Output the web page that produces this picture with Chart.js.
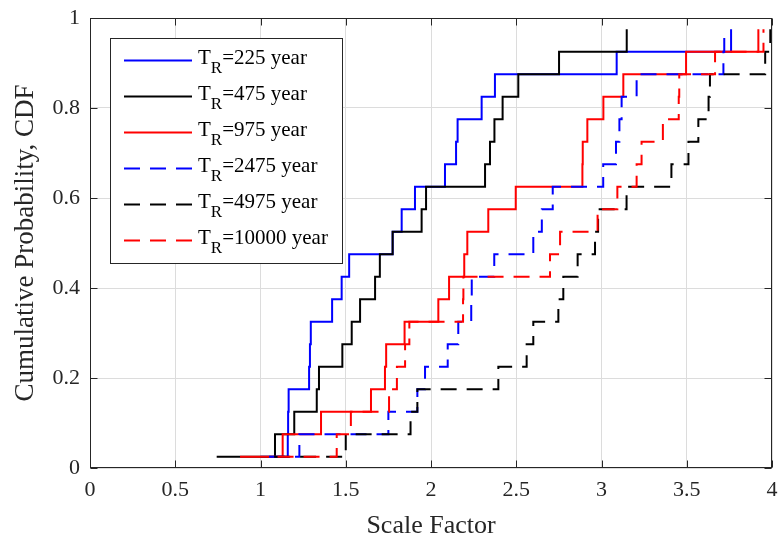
<!DOCTYPE html>
<html><head><meta charset="utf-8">
<script src="https://cdn.jsdelivr.net/npm/chart.js@4.4.1/dist/chart.umd.min.js"></script>
<style>html,body{margin:0;padding:0;background:#fff;}</style>
</head><body>
<canvas id="c" width="783" height="542"></canvas>
<script>
// Cumulative probability levels (plotting positions)
const cdfLevels = [0.025,0.075,0.125,0.175,0.225,0.275,0.325,0.375,0.425,0.475,0.525,0.575,0.625,0.675,0.725,0.775,0.825,0.875,0.925,0.975];
// Sorted scale factors per return period
const sf225   = [1.00,1.16,1.162,1.165,1.285,1.29,1.295,1.42,1.476,1.52,1.775,1.828,1.906,2.082,2.147,2.156,2.297,2.375,3.089,3.76];
const sf475   = [0.743,1.085,1.198,1.33,1.343,1.48,1.535,1.584,1.672,1.70,1.775,1.945,1.971,2.317,2.346,2.372,2.42,2.512,2.751,3.148];
const sf975   = [0.88,1.13,1.355,1.648,1.73,1.737,1.845,2.043,2.106,2.195,2.213,2.336,2.497,2.888,2.89,2.917,3.011,3.128,3.496,3.92];
const sf2475  = [1.05,1.228,1.75,1.92,1.965,2.098,2.16,2.236,2.239,2.371,2.60,2.65,2.714,3.01,3.085,3.105,3.118,3.206,3.715,3.72];
const sf4975  = [1.08,1.50,1.88,1.92,2.395,2.561,2.60,2.747,2.776,2.86,2.962,2.98,3.147,3.41,3.51,3.568,3.628,3.636,3.96,3.99];
const sf10000 = [1.10,1.447,1.53,1.754,1.80,1.848,1.873,2.188,2.19,2.698,2.757,2.977,3.093,3.206,3.235,3.36,3.453,3.456,3.666,3.95];
const returnPeriods = ['225','475','975','2475','4975','10000'];
const xTicks = [0,0.5,1,1.5,2,2.5,3,3.5,4];
const xTickLabels = ['0','0.5','1','1.5','2','2.5','3','3.5','4'];
const yTicks = [0,0.2,0.4,0.6,0.8,1];
const yTickLabels = ['0','0.2','0.4','0.6','0.8','1'];

const FONT = '"Liberation Serif", "Times New Roman", serif';
const AXIS = '#262626';

const seriesX = [sf225, sf475, sf975, sf2475, sf4975, sf10000];
const colors = ['#0000ff','#000000','#ff0000','#0000ff','#000000','#ff0000'];
const dashes = [[],[],[],[16,10],[16,10],[16,10]];

const datasets = seriesX.map((xs, i) => ({
  label: 'T_R=' + returnPeriods[i] + ' year',
  data: xs.map((x, k) => ({x: x, y: cdfLevels[k]})),
  borderColor: colors[i],
  borderWidth: 2,
  borderDash: dashes[i],
  borderCapStyle: 'butt',
  borderJoinStyle: 'miter',
  stepped: true,
  pointRadius: 0,
  fill: false,
  order: -i
}));

const framePlugin = {
  id: 'frame',
  afterDatasetsDraw(chart) {
    const {ctx, chartArea: a, scales: {x, y}} = chart;
    ctx.save();
    ctx.strokeStyle = AXIS;
    ctx.lineWidth = 1;
    const L = Math.round(a.left) + 0.5, R = Math.round(a.right) - 0.5;
    const T = Math.round(a.top) + 0.5, B = Math.round(a.bottom) - 0.5;
    ctx.strokeRect(L, T, R - L, B - T);
    const tl = 7;
    ctx.beginPath();
    xTicks.forEach(v => {
      const px = Math.round(x.getPixelForValue(v)) + 0.5;
      ctx.moveTo(px, B); ctx.lineTo(px, B - tl);
      ctx.moveTo(px, T); ctx.lineTo(px, T + tl);
    });
    yTicks.forEach(v => {
      const py = Math.round(y.getPixelForValue(v)) + 0.5;
      ctx.moveTo(L, py); ctx.lineTo(L + tl, py);
      ctx.moveTo(R, py); ctx.lineTo(R - tl, py);
    });
    ctx.stroke();
    ctx.restore();
  }
};

const legendPlugin = {
  id: 'trLegend',
  afterDraw(chart) {
    const {ctx, chartArea: a} = chart;
    const bx = a.left + 20, by = a.top + 20, bw = 232, bh = 225;
    ctx.save();
    ctx.fillStyle = '#fff';
    ctx.fillRect(bx, by, bw, bh);
    ctx.strokeStyle = AXIS;
    ctx.lineWidth = 1;
    ctx.strokeRect(bx + 0.5, by + 0.5, bw, bh);
    chart.data.datasets.forEach((ds, i) => {
      const cy = by + 22.5 + i * 36;
      ctx.beginPath();
      ctx.setLineDash(ds.borderDash || []);
      ctx.strokeStyle = ds.borderColor;
      ctx.lineWidth = ds.borderWidth;
      ctx.moveTo(bx + 14, cy); ctx.lineTo(bx + 82, cy);
      ctx.stroke();
      ctx.setLineDash([]);
      ctx.fillStyle = '#000';
      ctx.textBaseline = 'alphabetic';
      ctx.textAlign = 'left';
      const base = cy + 3;
      let tx = bx + 88;
      ctx.font = '21px ' + FONT;
      ctx.fillText('T', tx, base);
      tx += ctx.measureText('T').width;
      ctx.font = '17px ' + FONT;
      ctx.fillText('R', tx, base + 9);
      tx += ctx.measureText('R').width;
      ctx.font = '21px ' + FONT;
      ctx.fillText('=' + returnPeriods[i] + ' year', tx, base);
    });
    ctx.restore();
  }
};

function zeroPad(s) { s.paddingTop = 0; s.paddingBottom = 0; s.paddingLeft = 0; s.paddingRight = 0; }

new Chart(document.getElementById('c'), {
  type: 'line',
  data: {datasets},
  options: {
    responsive: false,
    animation: false,
    layout: {padding: {top: 18, right: 11, left: 0, bottom: 0}},
    plugins: {legend: {display: false}, tooltip: {enabled: false}},
    scales: {
      x: {
        type: 'linear', min: 0, max: 4,
        afterBuildTicks(s) { s.ticks = xTicks.map(v => ({value: v})); },
        afterFit(s) { s.height = 74; zeroPad(s); },
        grid: {color: '#dcdcdc', drawTicks: false},
        border: {display: false},
        ticks: {padding: 9, autoSkip: false, maxRotation: 0, color: AXIS, font: {family: FONT, size: 22},
          callback: (v, idx) => xTickLabels[idx]},
        title: {display: true, text: 'Scale Factor', color: AXIS, font: {family: FONT, size: 26}, padding: {top: 0, bottom: 0}}
      },
      y: {
        type: 'linear', min: 0, max: 1,
        afterBuildTicks(s) { s.ticks = yTicks.map(v => ({value: v})); },
        afterFit(s) { s.width = 90; zeroPad(s); },
        grid: {color: '#dcdcdc', drawTicks: false},
        border: {display: false},
        ticks: {padding: 10, autoSkip: false, color: AXIS, font: {family: FONT, size: 22},
          callback: (v, idx) => yTickLabels[idx]},
        title: {display: true, text: 'Cumulative Probability, CDF', color: AXIS, font: {family: FONT, size: 27}, padding: {top: 10, bottom: 0}}
      }
    }
  },
  plugins: [framePlugin, legendPlugin]
});
</script>
</body></html>
